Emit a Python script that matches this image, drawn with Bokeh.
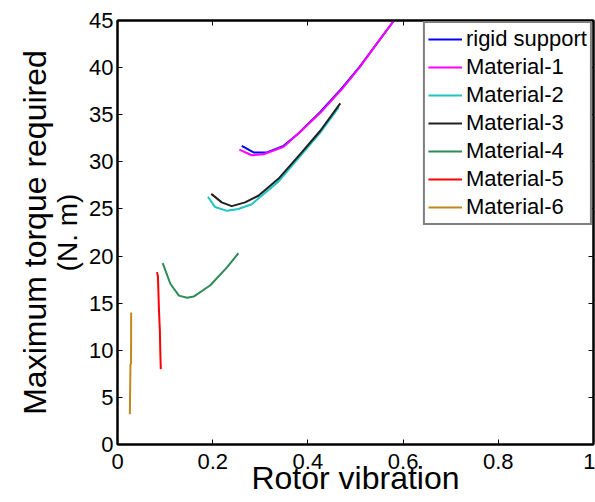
from bokeh.plotting import figure
from bokeh.models import (Legend, LegendItem, FixedTicker, LinearAxis, Range1d)
from bokeh.embed import file_html
from bokeh.resources import INLINE

# ---- data ----
rigid_x = [0.261, 0.286, 0.314, 0.349, 0.380, 0.426, 0.471, 0.509, 0.544, 0.581]
rigid_y = [31.7, 31.0, 31.0, 31.7, 33.0, 35.3, 37.8, 40.1, 42.5, 45.0]

mat1_x = [0.256, 0.282, 0.307, 0.349, 0.384, 0.426, 0.471, 0.509, 0.544, 0.581]
mat1_y = [31.3, 30.7, 30.8, 31.6, 33.2, 35.2, 37.7, 40.05, 42.5, 45.0]

mat2_x = [0.190, 0.205, 0.230, 0.254, 0.282, 0.338, 0.387, 0.426, 0.465]
mat2_y = [26.3, 25.2, 24.8, 25.0, 25.5, 27.9, 30.8, 33.1, 35.8]

mat3_x = [0.197, 0.219, 0.240, 0.268, 0.296, 0.338, 0.387, 0.426, 0.468]
mat3_y = [26.6, 25.7, 25.3, 25.7, 26.4, 28.2, 31.0, 33.3, 36.2]

mat4_x = [0.095, 0.111, 0.129, 0.146, 0.160, 0.195, 0.230, 0.254]
mat4_y = [19.25, 17.06, 15.8, 15.57, 15.7, 16.9, 18.8, 20.3]

mat5_x = [0.083, 0.085, 0.087, 0.089, 0.090, 0.091]
mat5_y = [18.3, 17.8, 14.4, 12.1, 9.6, 8.0]

mat6_x = [0.0287, 0.0285, 0.0272, 0.026]
mat6_y = [14.0, 8.6, 8.5, 3.2]

series_names = ["rigid support", "Material-1", "Material-2", "Material-3",
                "Material-4", "Material-5", "Material-6"]
series_colors = ["#0000ff", "#ff00ff", "#20c4c4", "#202020",
                 "#2e8b57", "#ff0000", "#c0881a"]

x_ticks = [0, 0.2, 0.4, 0.6, 0.8, 1.0]
x_tick_labels = ["0", "0.2", "0.4", "0.6", "0.8", "1"]
y_ticks = [0, 5, 10, 15, 20, 25, 30, 35, 40, 45]

FONT = "Liberation Sans"

p = figure(frame_width=476, frame_height=424, output_backend="svg", toolbar_location=None,
           x_range=Range1d(0, 1), y_range=Range1d(0, 45),
           min_border_left=117, min_border_top=20, min_border_right=2,
           min_border_bottom=56)
p.grid.visible = False
p.outline_line_color = "black"
p.outline_line_width = 2
p.background_fill_color = "white"
p.border_fill_color = "white"

xs = [rigid_x, mat1_x, mat2_x, mat3_x, mat4_x, mat5_x, mat6_x]
ys = [rigid_y, mat1_y, mat2_y, mat3_y, mat4_y, mat5_y, mat6_y]
order = [2, 3, 0, 1, 4, 5, 6]
renderers = {}
for i in order:
    renderers[i] = p.line(xs[i], ys[i], line_color=series_colors[i], line_width=2)

# axes styling
for ax in p.xaxis + p.yaxis:
    ax.axis_line_width = 2
    ax.axis_line_color = "black"
    ax.major_tick_in = 5
    ax.major_tick_out = 0
    ax.minor_tick_line_color = None
    ax.major_tick_line_width = 1
    ax.major_tick_line_color = "black"
    ax.major_label_text_font = FONT
    ax.major_label_text_font_size = "22px"
    ax.major_label_text_color = "black"

p.xaxis.ticker = FixedTicker(ticks=x_ticks)
p.xaxis.major_label_overrides = {t: l for t, l in zip(x_ticks, x_tick_labels)}
p.yaxis.ticker = FixedTicker(ticks=y_ticks)
p.xaxis.major_label_standoff = 9
p.yaxis.major_label_standoff = 4

p.xaxis.axis_label = "Rotor vibration"
p.xaxis.axis_label_text_font = FONT
p.xaxis.axis_label_text_font_size = "32px"
p.xaxis.axis_label_text_font_style = "normal"
p.xaxis.axis_label_text_color = "black"
p.xaxis.axis_label_standoff = -12

# second line of the y label sits on the main y axis
p.yaxis.axis_label = "(N. m)"
p.yaxis.axis_label_text_font = FONT
p.yaxis.axis_label_text_font_size = "28px"
p.yaxis.axis_label_text_font_style = "normal"
p.yaxis.axis_label_text_color = "black"
p.yaxis.axis_label_standoff = 3

# mirrored ticks (top and right)
def mirror(ticks):
    return LinearAxis(ticker=FixedTicker(ticks=ticks), major_label_text_font_size="0px",
                      major_label_text_color=None, major_label_standoff=0,
                      major_tick_in=5, major_tick_out=0, minor_tick_line_color=None,
                      axis_line_width=2, axis_line_color="black",
                      major_tick_line_color="black")
p.add_layout(mirror(x_ticks), "above")
p.add_layout(mirror(y_ticks), "right")

# first line of the y label on an outer label-only axis
main_label = LinearAxis(ticker=FixedTicker(ticks=[]), axis_line_color=None,
                        major_tick_line_color=None, minor_tick_line_color=None,
                        major_tick_in=0, major_tick_out=0,
                        major_label_text_font_size="0px", major_label_standoff=0,
                        axis_label="Maximum torque required", axis_label_text_font=FONT,
                        axis_label_text_font_size="32px", axis_label_text_font_style="normal",
                        axis_label_text_color="black", axis_label_standoff=-3)
p.add_layout(main_label, "left")

legend = Legend(items=[LegendItem(label=series_names[i], renderers=[renderers[i]])
                       for i in range(7)],
                location="top_right")
legend.label_text_font = FONT
legend.label_text_font_size = "22px"
legend.label_text_color = "black"
legend.border_line_color = "black"
legend.border_line_width = 2
legend.padding = 3
legend.margin = 1
legend.spacing = 2
legend.glyph_width = 34
legend.glyph_height = 24
legend.label_height = 24
legend.label_standoff = 4
legend.background_fill_alpha = 1
p.add_layout(legend, "center")

open("out.html", "w").write(file_html(p, INLINE))
